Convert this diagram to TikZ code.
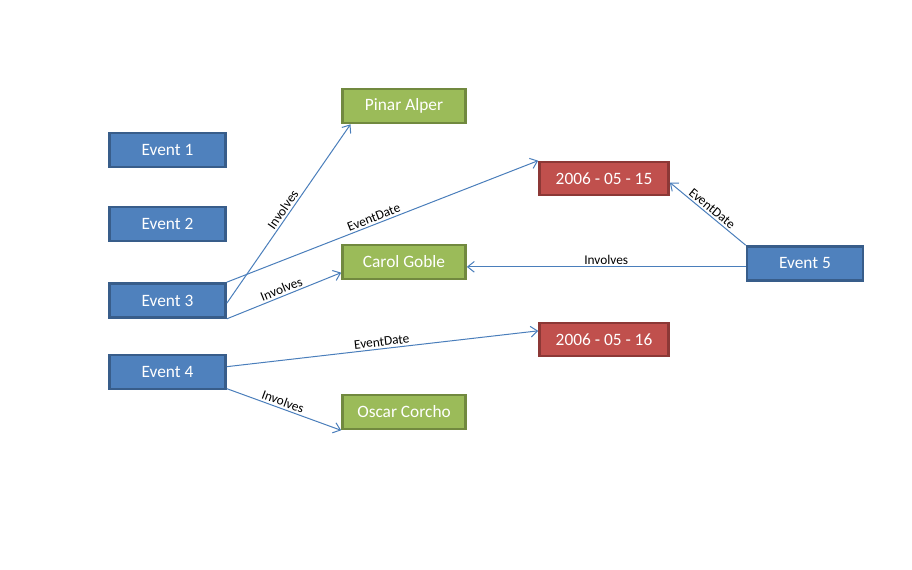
\documentclass[tikz,border=0pt]{standalone}
\usepackage{fontspec}
\setmainfont{Carlito}
\usetikzlibrary{arrows.meta}
\definecolor{evfill}{HTML}{4F81BD}
\definecolor{evline}{HTML}{385D8A}
\definecolor{psfill}{HTML}{9BBB59}
\definecolor{psline}{HTML}{71893F}
\definecolor{dtfill}{HTML}{C0504D}
\definecolor{dtline}{HTML}{8C3836}
\definecolor{rlline}{HTML}{4A7EBB}
\tikzset{
  box/.style={draw, line width=2pt, text=white, inner sep=0pt,
    minimum height=25.5pt, font=\fontsize{13}{15}\selectfont},
  event/.style={box, fill=evfill, draw=evline, minimum width=87pt},
  person/.style={box, fill=psfill, draw=psline, minimum width=92.25pt},
  date/.style={box, fill=dtfill, draw=dtline, minimum width=96.75pt, minimum height=24.75pt},
  rel/.style={draw=rlline, line width=0.75pt, -{Straight Barb[length=5pt,width=8pt]}},
  lbl/.style={midway, sloped, above, inner sep=1.5pt, font=\fontsize{10}{12}\selectfont}
}

\begin{document}
\begin{tikzpicture}[x=0.75pt, y=-0.75pt]
    \useasboundingbox (0, 0) rectangle (912, 570);
    \node[event](e1) at (167.5, 150){Event 1};
    \node[event](e2) at (167.5, 224){Event 2};
    \node[event](e3) at (167.5, 300.5){Event 3};
    \node[event](e4) at (167.5, 372){Event 4};
    \node[event](e5) at (805, 263.5){Event 5};
    \node[person](pa) at (404, 106){Pinar Alper};
    \node[person](cg) at (404, 262){Carol Goble};
    \node[person](oc) at (404, 412){Oscar Corcho};
    \node[date](d15) at (604, 178.5){2006 - 05 - 15};
    \node[date](d16) at (604, 339.5){2006 - 05 - 16};
    \draw[rel]([yshift=-2pt]e3.east)--([xshift=7pt]pa.south west)node[lbl]{Involves};
    \draw[rel](e3.north east)--(d15.north west)node[lbl, pos=.48]{EventDate};
    \draw[rel](e3.south east)--([yshift=-8pt]cg.west)node[lbl]{Involves};
    \draw[rel]([yshift=4pt]e4.east)--([yshift=6.5pt]d16.west)node[lbl]{EventDate};
    \draw[rel]([yshift=-12.5pt]e4.east)--(oc.south west)node[lbl, pos=.47]{Involves};
    \draw[rel](e5.north west)--([yshift=-3pt]d15.east)node[lbl]{EventDate};
    \draw[rel]([yshift=-2.5pt]e5.west)--([yshift=-2.5pt]e5.west -| cg.east)node[lbl]{Involves};
\end{tikzpicture}
\end{document}
